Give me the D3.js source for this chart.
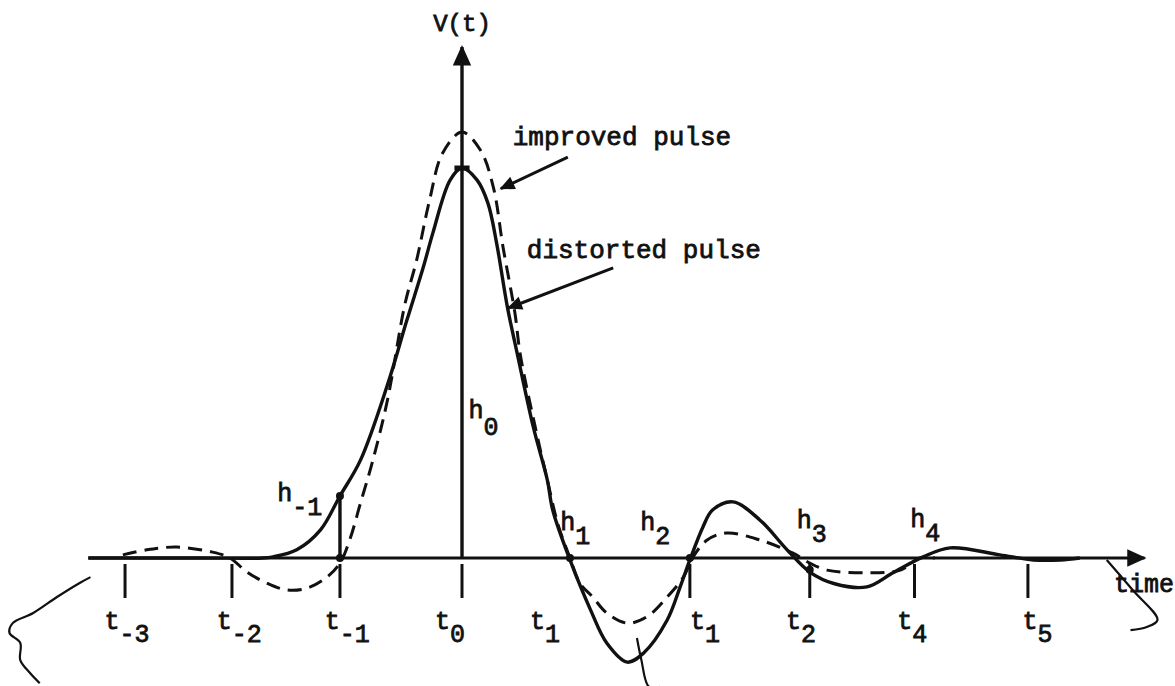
<!DOCTYPE html>
<html>
<head>
<meta charset="utf-8">
<script src="https://cdn.jsdelivr.net/npm/d3@7"></script>
<style>
  html, body { margin: 0; padding: 0; background: #fff; }
  svg { display: block; }
  text { font-family: "Liberation Mono", "DejaVu Sans Mono", monospace; fill: #111; }
</style>
</head>
<body>
<svg id="chart" width="1175" height="686"></svg>
<script>
// Sampled pulse shapes: time (in sample periods, t0 = 0) and normalised voltage (h0 = 1)
const distortedT = [-3.46, -2.43, -1.85, -1.75, -1.53, -1.31, -1.13, -0.94, -0.69, -0.51, -0.36, -0.27, -0.11, 0,
  0.14, 0.24, 0.32, 0.42, 0.51, 0.66, 0.79, 0.84, 1.00, 1.19, 1.34, 1.53, 1.68, 1.90, 2.02, 2.11, 2.23, 2.32,
  2.51, 2.76, 3.01, 3.22, 3.45, 3.75, 3.99, 4.27, 4.52, 4.98, 5.29, 5.54, 5.72];
const distortedV = [0, 0, 0, 0.003, 0.021, 0.072, 0.159, 0.251, 0.444, 0.610, 0.744, 0.833, 0.969, 1.0,
  0.969, 0.910, 0.808, 0.644, 0.526, 0.336, 0.200, 0.123, -0.005, -0.133, -0.218, -0.267, -0.244, -0.159, -0.074, -0.005, 0.079, 0.123,
  0.144, 0.097, 0.021, -0.036, -0.066, -0.074, -0.038, 0.003, 0.026, 0.008, -0.005, -0.005, 0];

const improvedT = [-3.14, -2.92, -2.64, -2.31, -2.15, -1.99, -1.81, -1.62, -1.43, -1.25, -1.13, -1.04, -0.94, -0.83,
  -0.69, -0.53, -0.42, -0.30, -0.18, 0, 0.17, 0.29, 0.38, 0.49, 0.54, 0.69, 0.79, 0.89, 1.00, 1.09, 1.21, 1.34,
  1.53, 1.71, 1.90, 2.05, 2.14, 2.27, 2.45, 2.76, 3.06, 3.22, 3.38, 3.75, 4.06, 4.24, 4.38];
const improvedV = [0.008, 0.021, 0.028, 0.015, 0, -0.036, -0.064, -0.082, -0.077, -0.049, -0.013, 0.046, 0.141, 0.246,
  0.405, 0.649, 0.764, 0.918, 1.038, 1.092, 1.046, 0.951, 0.797, 0.628, 0.521, 0.321, 0.200, 0.085, 0, -0.064, -0.100, -0.141,
  -0.167, -0.151, -0.100, -0.049, 0.003, 0.046, 0.064, 0.046, 0.013, -0.013, -0.031, -0.038, -0.031, 0, 0];

// Sampling instants marked under the time axis
const tickTimes = [-3.12, -2.13, -1.13, 0, 2.11, 3.22, 4.19, 5.24];
const tickNames = ["t", "t", "t", "t", "t", "t", "t", "t", "t"];
const tickSubs = ["-3", "-2", "-1", "0", "1", "1", "2", "4", "5"];
const tickLabelT = [-3.31, -2.27, -1.27, -0.25, 0.63, 2.11, 3.00, 4.03, 5.19];

// Sample heights h_k
const hSubs = ["-1", "0", "1", "2", "3", "4"];
const hLabelT = [-1.71, 0.06, 0.91, 1.65, 3.10, 4.15];
const hLabelV = [0.146, 0.359, 0.072, 0.072, 0.077, 0.079];
const hSampleT = -1.13;
const hSampleV = 0.159;

const W = 1175, H = 686;
const x = d3.scaleLinear().domain([-4, 7]).range([30, 1218]);
const y = d3.scaleLinear().domain([-0.3, 1.4]).range([675, 12]);

const svg = d3.select("#chart");
const ink = "#111";

// Arrowheads for the axes and the annotation pointers
const defs = svg.append("defs");
defs.append("marker").attr("id", "axisHead").attr("viewBox", "0 0 10 10")
  .attr("refX", 9).attr("refY", 5).attr("markerWidth", 8).attr("markerHeight", 6)
  .attr("markerUnits", "strokeWidth").attr("orient", "auto")
  .append("path").attr("d", "M0,0.5 L10,5 L0,9.5 Z").attr("fill", ink);
defs.append("marker").attr("id", "noteHead").attr("viewBox", "0 0 10 10")
  .attr("refX", 9).attr("refY", 5).attr("markerWidth", 7).attr("markerHeight", 5)
  .attr("markerUnits", "strokeWidth").attr("orient", "auto")
  .append("path").attr("d", "M0,0.5 L10,5 L0,9.5 Z").attr("fill", ink);

svg.append("line")
  .attr("x1", x(-3.46)).attr("y1", y(0)).attr("x2", x(6.32)).attr("y2", y(0))
  .attr("stroke", ink).attr("stroke-width", 3.2).attr("marker-end", "url(#axisHead)");
svg.append("line")
  .attr("x1", x(0)).attr("y1", y(0)).attr("x2", x(0)).attr("y2", y(1.31))
  .attr("stroke", ink).attr("stroke-width", 3.4).attr("marker-end", "url(#axisHead)");

// Tick marks below the axis
svg.selectAll("line.tick").data(tickTimes).join("line").attr("class", "tick")
  .attr("x1", d => x(d)).attr("x2", d => x(d))
  .attr("y1", y(0) + 6).attr("y2", y(0) + 40)
  .attr("stroke", ink).attr("stroke-width", 3);

// Pulse curves
const line = d3.line().x(d => x(d[0])).y(d => y(d[1])).curve(d3.curveCatmullRom.alpha(0.5));
const distorted = distortedT.map((t, i) => [t, distortedV[i]]);
const improved = improvedT.map((t, i) => [t, improvedV[i]]);

svg.append("path").attr("d", line(improved)).attr("fill", "none")
  .attr("stroke", ink).attr("stroke-width", 3).attr("stroke-dasharray", "14,8");
svg.append("path").attr("d", line(distorted)).attr("fill", "none")
  .attr("stroke", ink).attr("stroke-width", 3.4);

// Sample h_{-1} stem and sample marks
svg.append("line").attr("x1", x(hSampleT)).attr("x2", x(hSampleT))
  .attr("y1", y(0)).attr("y2", y(hSampleV)).attr("stroke", ink).attr("stroke-width", 3.4);
svg.append("line").attr("x1", x(-0.07)).attr("x2", x(0.07))
  .attr("y1", y(1.0)).attr("y2", y(1.0)).attr("stroke", ink).attr("stroke-width", 5);
svg.selectAll("circle.mark").data([[hSampleT, hSampleV], [hSampleT, 0], [1.0, 0], [2.11, 0], [3.22, -0.03]])
  .join("circle").attr("class", "mark")
  .attr("cx", d => x(d[0])).attr("cy", d => y(d[1])).attr("r", 4).attr("fill", ink);

// Labels with subscripts
function subLabel(px, py, main, sub, size, drop) {
  const t = svg.append("text").attr("x", px).attr("y", py)
    .attr("font-size", size).attr("stroke", ink).attr("stroke-width", 0.8);
  t.append("tspan").text(main);
  t.append("tspan").attr("dy", drop).text(sub);
}
tickSubs.forEach((s, i) => subLabel(x(tickLabelT[i]), 629, tickNames[i], s, 25, 13));
hSubs.forEach((s, i) => subLabel(x(hLabelT[i]), y(hLabelV[i]), "h", s, 25, i === 1 ? 17 : 14));

svg.append("text").attr("x", x(0)).attr("y", 31).attr("text-anchor", "middle")
  .attr("font-size", 24).attr("stroke", ink).attr("stroke-width", 0.8).text("V(t)");
svg.append("text").attr("x", 1114).attr("y", 592)
  .attr("font-size", 25).attr("stroke", ink).attr("stroke-width", 0.8).text("time");

// Curve annotations
svg.append("text").attr("x", x(0.47)).attr("y", y(1.059))
  .attr("font-size", 26).attr("stroke", ink).attr("stroke-width", 0.8).text("improved pulse");
svg.append("text").attr("x", x(0.60)).attr("y", y(0.769))
  .attr("font-size", 26).attr("stroke", ink).attr("stroke-width", 0.8).text("distorted pulse");
svg.append("line").attr("x1", x(0.98)).attr("y1", y(1.028)).attr("x2", x(0.36)).attr("y2", y(0.947))
  .attr("stroke", ink).attr("stroke-width", 3).attr("marker-end", "url(#noteHead)");
svg.append("line").attr("x1", x(1.40)).attr("y1", y(0.744)).attr("x2", x(0.43)).attr("y2", y(0.641))
  .attr("stroke", ink).attr("stroke-width", 3).attr("marker-end", "url(#noteHead)");

// Pen strokes drawn on the sheet
const pen = d3.line().x(d => x(d[0])).y(d => y(d[1])).curve(d3.curveCatmullRom);
const strokes = [
  [[1.62, -0.205], [1.66, -0.26], [1.73, -0.33], [1.83, -0.33]],
  [[5.97, -0.005], [6.21, -0.082], [6.44, -0.159], [6.34, -0.177], [6.19, -0.185]],
  [[-3.44, -0.049], [-3.54, -0.064], [-3.75, -0.100], [-3.97, -0.141], [-4.16, -0.167], [-4.19, -0.192],
   [-4.09, -0.218], [-4.09, -0.262], [-4.0, -0.295], [-3.91, -0.321]]
];
strokes.forEach(s => svg.append("path").attr("d", pen(s)).attr("fill", "none")
  .attr("stroke", ink).attr("stroke-width", 2.2));
</script>
</body>
</html>
